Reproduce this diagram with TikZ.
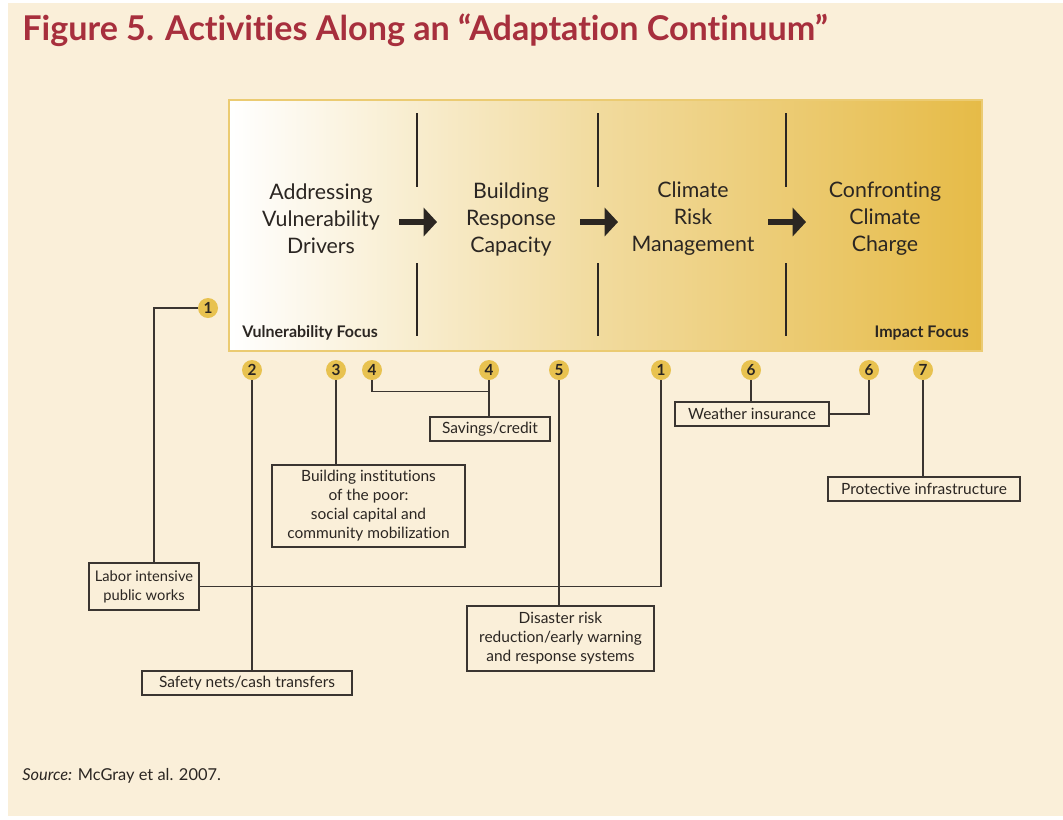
\documentclass[tikz,border=0pt]{standalone}
\usepackage{fontspec}
\setmainfont{Lato}[Ligatures=NoCommon]
\usetikzlibrary{arrows.meta}
\definecolor{bgcream}{HTML}{FAEFD9}
\definecolor{titlered}{HTML}{A72F3D}
\definecolor{goldc}{HTML}{E8C250}
\definecolor{goldend}{HTML}{E6BB47}
\definecolor{goldmid}{HTML}{F1DA9C}
\definecolor{goldborder}{HTML}{EBCB72}
\definecolor{ink}{HTML}{3A3531}
\definecolor{txt}{HTML}{2B2622}
\tikzset{
  num/.style={circle, fill=goldc, inner sep=0pt, minimum size=15pt, font=\fontsize{11.5}{12}\selectfont\bfseries, text=txt},
  actbox/.style={draw=ink, line width=0.9pt, fill=bgcream, inner sep=1pt, align=center, text=txt, font=\fontsize{11.6}{14.3}\selectfont},
  conn/.style={draw=ink, line width=0.9pt},
  stage/.style={align=center, text=txt, font=\fontsize{16}{20.25}\selectfont},
  sep/.style={draw=txt, line width=1.5pt},
  blockarr/.style={draw=txt, line width=3.8pt, -{Triangle[length=10pt, width=21pt]}},
  focus/.style={text=txt, font=\fontsize{12}{12}\selectfont\bfseries, inner sep=0pt}
}
\begin{document}
\begin{tikzpicture}[x=0.75pt, y=-0.75pt]
\useasboundingbox (0,0) rectangle (1063,819);
\fill[white] (0,0) rectangle (1063,819);
\fill[bgcream] (8,3) rectangle (1063,816);

\node[anchor=base west, inner sep=0pt, text=titlered, font=\fontsize{25.6}{28}\selectfont\bfseries] (title) at (22,40) {Figure 5. Activities Along an “Adaptation Continuum”};

% band
\node[draw=goldborder, line width=1pt, minimum width=564.75pt, minimum height=188.25pt, inner sep=0pt,
      left color=white, right color=goldend, middle color=goldmid] (band) at (605.5,225.5) {};

% separators
\foreach \x in {417,598,786}{
  \draw[sep] (\x,113) -- (\x,187);
  \draw[sep] (\x,263) -- (\x,336);
}

% stages
\node[stage] (s1) at (321,219) {Addressing\\Vulnerability\\Drivers};
\node[stage] (s2) at (511,219) {Building\\Response\\Capacity};
\node[stage] (s3) at (693,219) {Climate\\Risk\\Management};
\node[stage] (s4) at (885,219) {Confronting\\Climate\\Charge};

\coordinate (a1s) at (399,222); \coordinate (a1e) at (437,222);
\coordinate (a2s) at (580,222); \coordinate (a2e) at (618,222);
\coordinate (a3s) at (768,222); \coordinate (a3e) at (806,222);
\draw[blockarr] (a1s) -- (a1e);
\draw[blockarr] (a2s) -- (a2e);
\draw[blockarr] (a3s) -- (a3e);

\node[focus, anchor=base west] (vf) at (242,337) {Vulnerability Focus};
\node[focus, anchor=base east] (if) at (969,337) {Impact Focus};

% numbered markers
\node[num] (c1a) at (208,308) {1};
\node[num] (c2) at (252,370) {2};
\node[num] (c3) at (336,370) {3};
\node[num] (c4a) at (372,370) {4};
\node[num] (c4b) at (489,370) {4};
\node[num] (c5) at (559,370) {5};
\node[num] (c1b) at (661,370) {1};
\node[num] (c6a) at (751,370) {6};
\node[num] (c6b) at (869,370) {6};
\node[num] (c7) at (923,370) {7};

% activity boxes
\node[actbox, minimum width=90pt, minimum height=18pt] (savings) at (490,429) {Savings/credit};
\node[actbox, minimum width=144.75pt, minimum height=61.5pt] (inst) at (368.5,506) {Building institutions\\of the poor:\\social capital and\\community mobilization};
\node[actbox, minimum width=82.5pt, minimum height=35.25pt, font=\fontsize{11}{14.3}\selectfont] (labor) at (144,586.5) {Labor intensive\\public works};
\node[actbox, minimum width=157.5pt, minimum height=18pt] (safety) at (247,683) {Safety nets/cash transfers};
\node[actbox, minimum width=140.25pt, minimum height=48.75pt] (disaster) at (560.5,638.5) {Disaster risk\\reduction/early warning\\and response systems};
\node[actbox, minimum width=115.5pt, minimum height=18pt] (weather) at (752,414) {Weather insurance};
\node[actbox, minimum width=144pt, minimum height=18pt] (protect) at (924,489) {Protective infrastructure};

% connectors
\draw[conn] (c1a.west) -| ([xshift=7.5pt]labor.north);
\draw[conn] (c2.south) -- (c2.south |- safety.north);
\draw[conn] (c3.south) -- (c3.south |- inst.north);
\draw[conn] (c4a.south) -- ++(0,11) -| (c4b.south);
\draw[conn] (c4b.south) -- (c4b.south |- savings.north);
\draw[conn] (c5.south) -- (c5.south |- disaster.north);
\draw[conn] (c1b.south) |- (labor.east);
\draw[conn] (c6a.south) -- (c6a.south |- weather.north);
\draw[conn] (c6b.south) |- (weather.east);
\draw[conn] (c7.south) -- (c7.south |- protect.north);

\node[anchor=base west, inner sep=0pt, text=txt, font=\fontsize{12.3}{14}\selectfont] (source) at (22,780) {\textit{Source:} McGray et al. 2007.};
\end{tikzpicture}
\end{document}
